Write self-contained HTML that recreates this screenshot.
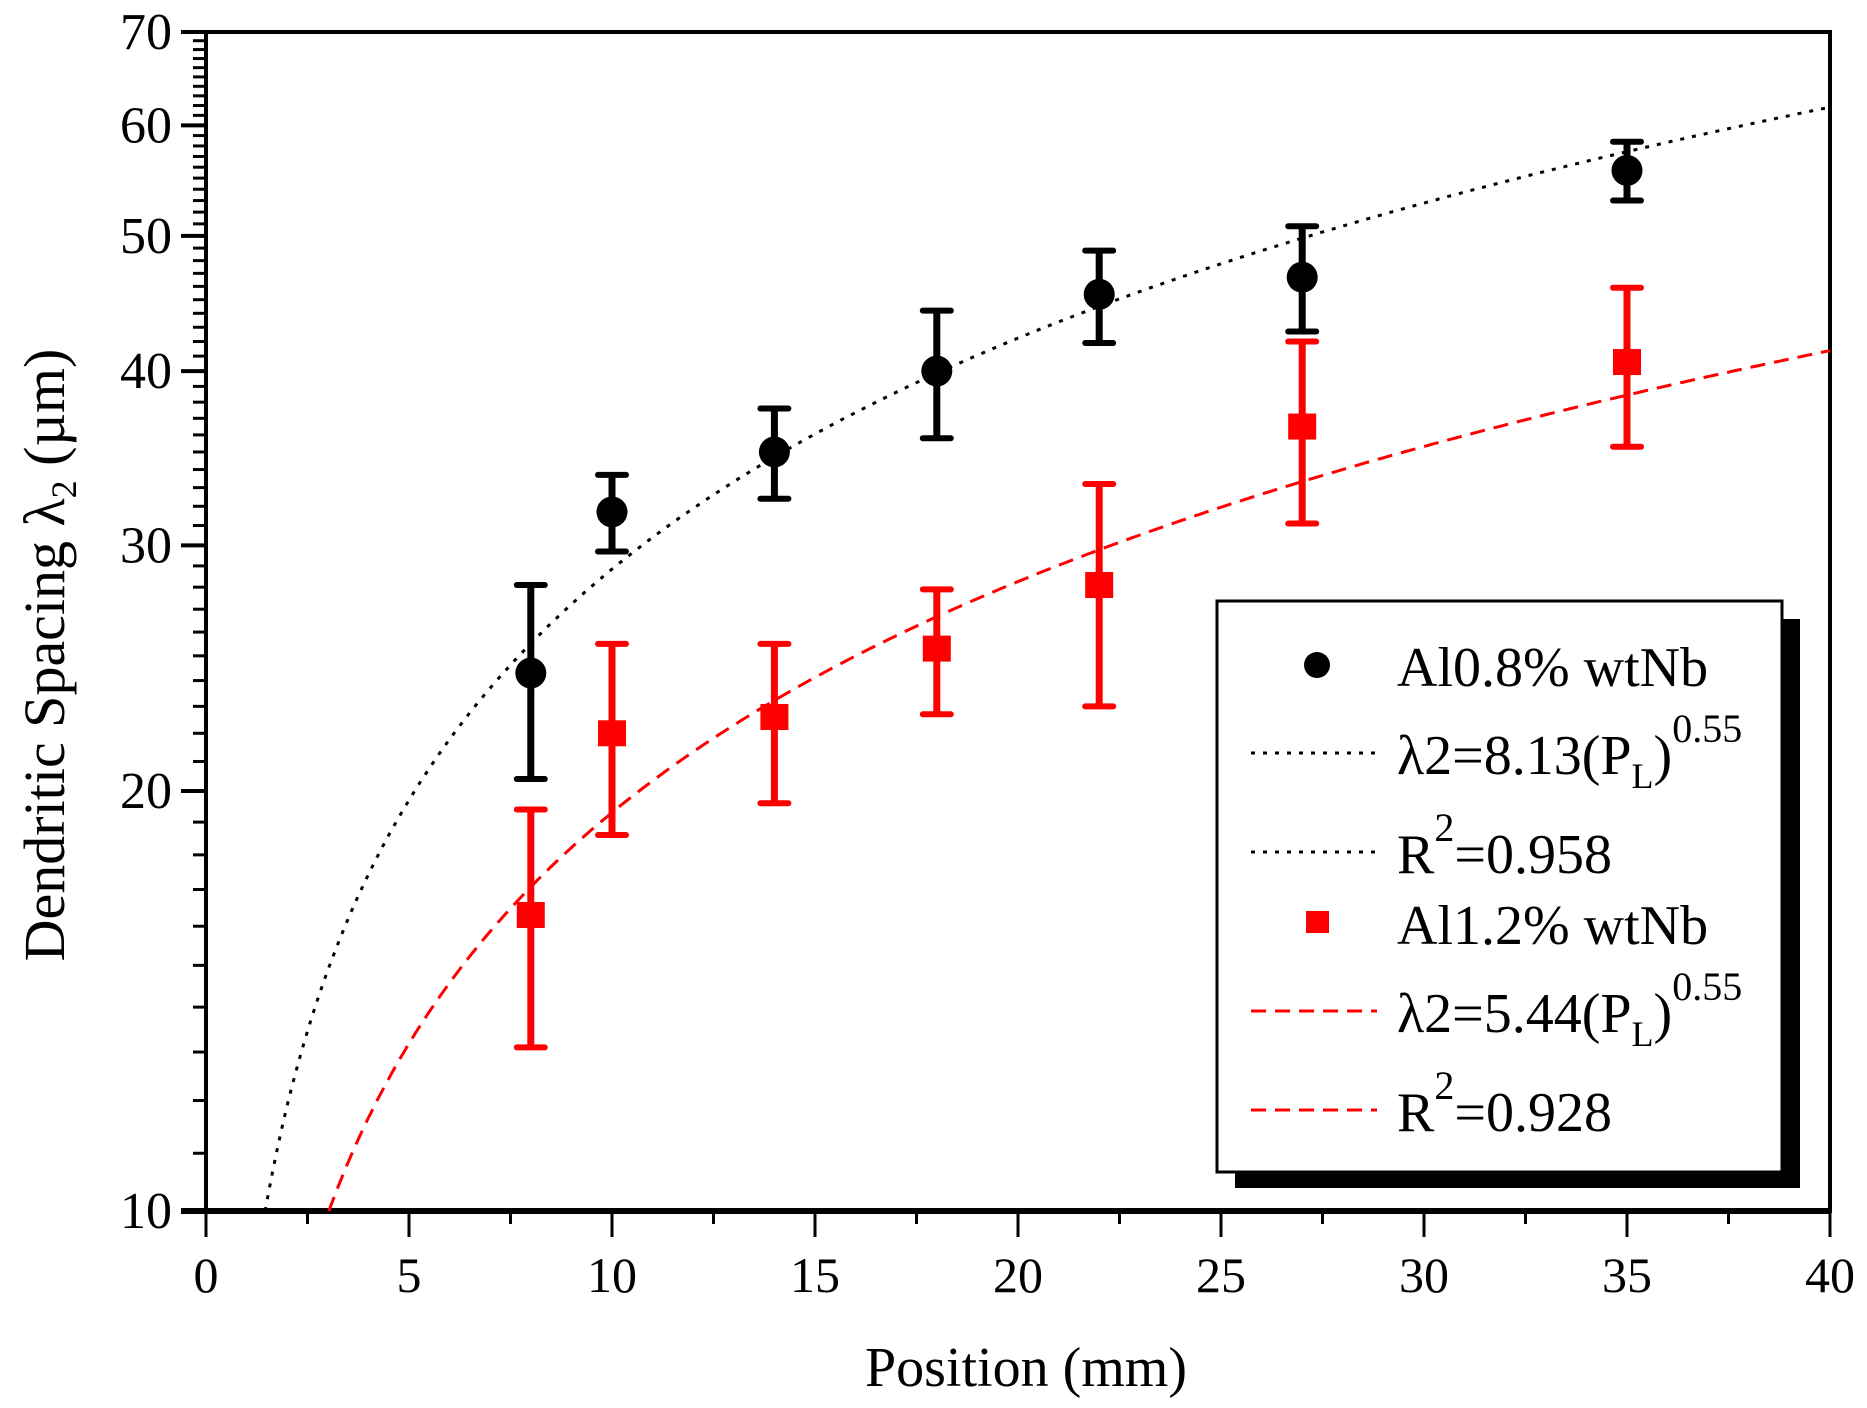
<!DOCTYPE html>
<html><head><meta charset="utf-8"><style>
html,body{margin:0;padding:0;background:#fff}
svg{display:block}
text{font-family:"Liberation Serif","DejaVu Serif",serif;fill:#000}
</style></head><body>
<svg id="chart" width="1867" height="1408" viewBox="0 0 1867 1408" xmlns="http://www.w3.org/2000/svg">
<g id="grid"></g>
<g id="series"></g>
<g id="legend"></g>
<text x="1026" y="1386" font-size="56" text-anchor="middle">Position (mm)</text>
<text transform="translate(64,655) rotate(-90)" font-size="58" text-anchor="middle">Dendritic Spacing λ<tspan font-size="36" dy="12">2</tspan><tspan dy="-12"> (µm)</tspan></text>
</svg>
<script>
const xTicks = [0,5,10,15,20,25,30,35,40];
const yTicks = [10,20,30,40,50,60,70];
const positions = [8,10,14,18,22,27,35];
const al08Values = [24.3,31.7,35.0,40.0,45.4,46.7,55.7];
const al08Upper = [28.1,33.7,37.6,44.2,48.8,50.8,58.4];
const al08Lower = [20.4,29.7,32.4,35.8,41.9,42.7,53.0];
const al12Values = [16.3,22.0,22.6,25.3,28.1,36.5,40.6];
const al12Upper = [19.4,25.5,25.5,27.9,33.2,42.0,45.9];
const al12Lower = [13.1,18.6,19.6,22.7,23.0,31.1,35.3];
const fitAl08 = [8.13,0.55];
const fitAl12 = [5.44,0.55];

const NS='http://www.w3.org/2000/svg';
const L=206,R=1830,T=32,B=1211;
const X0=0,X1=40,Y0=10,Y1=70;
const xs=v=>L+(v-X0)/(X1-X0)*(R-L);
const ys=v=>B-(Math.log10(v)-Math.log10(Y0))/(Math.log10(Y1)-Math.log10(Y0))*(B-T);
function mk(tag,attrs,parent){const e=document.createElementNS(NS,tag);for(const k in attrs)e.setAttribute(k,attrs[k]);parent.appendChild(e);return e;}
const grid=document.getElementById('grid'),ser=document.getElementById('series'),leg=document.getElementById('legend');

let fr=mk('rect',{x:L,y:T,width:R-L,height:B-T,fill:'none',stroke:'#000','stroke-width':4},grid);


let xa=mk('line',{x1:L-25,y1:B,x2:R,y2:B,stroke:'#000','stroke-width':6},grid);


for(let v=0;v<=40;v+=2.5){
  const major=v%5===0;
  const t=mk('line',{x1:xs(v),y1:B,x2:xs(v),y2:B+(major?26:13),stroke:'#000','stroke-width':3},grid);
  
  
}
xTicks.forEach(v=>{
  const t=mk('text',{x:xs(v),y:1292,'font-size':50,'text-anchor':'middle'},grid);
  t.textContent=v;
  
  
});
for(let v=11;v<70;v++){
  if(v%10===0)continue;
  const t=mk('line',{x1:L-13,y1:ys(v),x2:L,y2:ys(v),stroke:'#000','stroke-width':3},grid);
  
  
}
yTicks.forEach(v=>{
  const t=mk('line',{x1:L-25,y1:ys(v),x2:L,y2:ys(v),stroke:'#000','stroke-width':4},grid);
  
  
  const l=mk('text',{x:172,y:ys(v)+17,'font-size':52,'text-anchor':'end'},grid);
  l.textContent=v;
  
  
});

function curve(fit,color,dash,name){
  const [a,b]=fit;const xs0=Math.pow(Y0/a,1/b);
  let d='';
  for(let i=0;i<=400;i++){const x=xs0+(X1-xs0)*i/400;d+=(i?'L':'M')+xs(x).toFixed(1)+','+ys(a*Math.pow(x,b)).toFixed(1);}
  const p=mk('path',{d:d,fill:'none',stroke:color,'stroke-width':3,'stroke-dasharray':dash},ser);
  
  
}
curve(fitAl08,'#000','4 8','fit-curve-al08');
curve(fitAl12,'#f00','15 9','fit-curve-al12');

function points(vals,up,lo,color,shape,name){
  positions.forEach((p,i)=>{
    const x=xs(p);
    const g=mk('g',{},ser);
    
    
    mk('line',{x1:x,y1:ys(up[i]),x2:x,y2:ys(lo[i]),stroke:color,'stroke-width':7},g);
    mk('line',{x1:x-14,y1:ys(up[i]),x2:x+14,y2:ys(up[i]),stroke:color,'stroke-width':6,'stroke-linecap':'round'},g);
    mk('line',{x1:x-14,y1:ys(lo[i]),x2:x+14,y2:ys(lo[i]),stroke:color,'stroke-width':6,'stroke-linecap':'round'},g);
    if(shape==='circle')mk('circle',{cx:x,cy:ys(vals[i]),r:15.5,fill:color},g);
    else mk('rect',{x:x-14,y:ys(vals[i])-13,width:28,height:26,fill:color},g);
  });
}
points(al08Values,al08Upper,al08Lower,'#000','circle','al08');
points(al12Values,al12Upper,al12Lower,'#f00','square','al12');

mk('rect',{x:1235,y:619,width:565,height:569,fill:'#000'},leg);
mk('rect',{x:1217,y:601,width:565,height:571,fill:'#fff',stroke:'#000','stroke-width':3},leg);
const SUP='<tspan font-size="40" dy="-32">';
const rows=[
 {t:'sym',c:'#000',s:'circle',y:665,txt:'Al0.8% wtNb'},
 {t:'line',c:'#000',d:'4 8',y:753,txt:'λ2=8.13(P<tspan font-size="36" dy="14">L</tspan><tspan dy="-14">)</tspan>'+SUP+'0.55</tspan>'},
 {t:'line',c:'#000',d:'4 8',y:852,txt:'R'+SUP+'2</tspan><tspan dy="32">=0.958</tspan>'},
 {t:'sym',c:'#f00',s:'square',y:923,txt:'Al1.2% wtNb'},
 {t:'line',c:'#f00',d:'15 9',y:1011,txt:'λ2=5.44(P<tspan font-size="36" dy="14">L</tspan><tspan dy="-14">)</tspan>'+SUP+'0.55</tspan>'},
 {t:'line',c:'#f00',d:'15 9',y:1110,txt:'R'+SUP+'2</tspan><tspan dy="32">=0.928</tspan>'}
];
rows.forEach(r=>{
  const g=mk('g',{},leg);
  
  
  if(r.t==='sym'){
    if(r.s==='circle')mk('circle',{cx:1317,cy:r.y,r:13,fill:r.c},g);
    else mk('rect',{x:1306,y:r.y-12,width:23,height:22,fill:r.c},g);
  } else mk('line',{x1:1251,y1:r.y,x2:1377,y2:r.y,stroke:r.c,'stroke-width':3,'stroke-dasharray':r.d},g);
  const t=mk('text',{x:1397,y:r.y+21,'font-size':56},g);
  t.innerHTML=r.txt;
});
</script>
</body></html>
